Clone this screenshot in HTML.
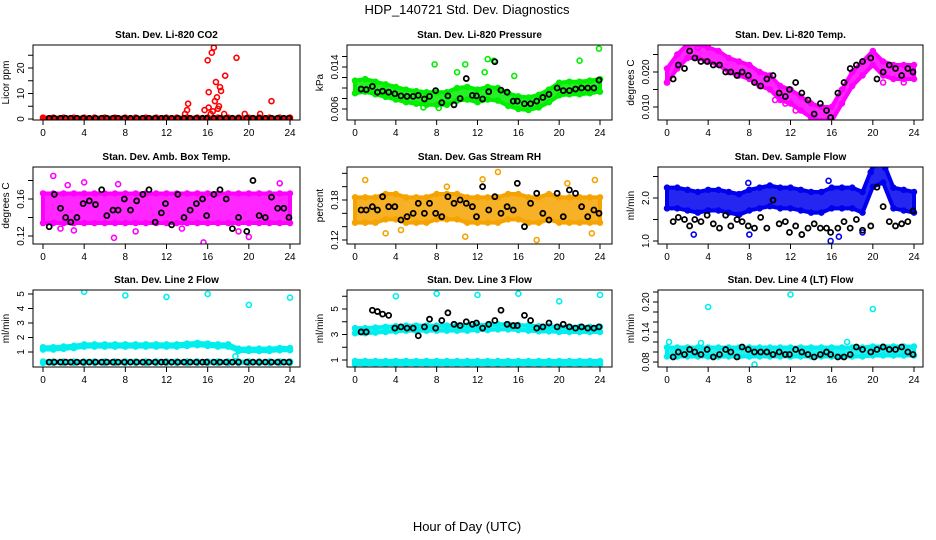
<!DOCTYPE html>
<html><head><meta charset="utf-8"><style>
body{margin:0;background:#fff;}
svg{display:block;font-family:"Liberation Sans",sans-serif;}
</style></head><body>
<svg id="c" width="936" height="540">
<text x="467" y="14" text-anchor="middle" font-size="13">HDP_140721  Std. Dev. Diagnostics</text>
<text x="467" y="531" text-anchor="middle" font-size="13">Hour of Day (UTC)</text>
</svg>
<script>
const hours = [0,1,2,3,4,5,6,7,8,9,10,11,12,13,14,15,16,17,18,19,20,21,22,23,24];
const blackX = [0.6,1.1,1.7,2.2,2.7,3.3,3.9,4.5,5.1,5.7,6.2,6.8,7.3,7.9,8.5,9.1,9.7,10.3,10.9,11.5,11.9,12.5,13.1,13.7,14.3,14.9,15.5,15.9,16.6,17.2,17.8,18.4,19,19.8,20.4,21,21.6,22.2,22.8,23.4,23.9];
const xTicks = [0,4,8,12,16,20,24];

const co2Center = [0.3,0.3,0.3,0.3,0.3,0.3,0.3,0.3,0.3,0.3,0.3,0.3,0.3,0.3,0.3,0.3,0.3,0.3,0.3,0.3,0.3,0.3,0.3,0.3,0.3];
const co2Black = [0.3,0.3,0.3,0.3,0.3,0.3,0.3,0.3,0.3,0.3,0.3,0.3,0.3,0.3,0.3,0.3,0.3,0.3,0.3,0.3,0.3,0.3,0.3,0.3,0.3,0.3,0.3,0.3,0.3,0.3,0.3,0.3,0.3,0.3,0.3,0.3,0.3,0.3,0.3,0.3,0.3];
const co2Out = [[13.8,2],[14,3.5],[14.1,6],[15.7,3.5],[16,23],[16.1,10.5],[16.1,4.5],[16.4,26],[16.6,28],[16.7,7],[16.8,14.5],[16.9,8.5],[17.1,5],[17.2,12.5],[17.3,11],[17.7,17],[17.6,2],[18.8,24],[19.6,2],[21.1,2],[22.2,7],[16.5,3],[17,4],[16.3,2]];

const presCenter = [0.0102,0.0105,0.0100,0.0095,0.0090,0.0085,0.0082,0.0080,0.0080,0.0080,0.0088,0.0090,0.0085,0.0090,0.0088,0.0078,0.0072,0.0070,0.0075,0.0085,0.0098,0.0100,0.0100,0.0102,0.0105];
const presBlack = [0.0098,0.0097,0.0103,0.0092,0.0094,0.0092,0.0089,0.0085,0.0084,0.0084,0.0086,0.0079,0.0084,0.0095,0.0072,0.0085,0.0068,0.0080,0.0118,0.0086,0.0085,0.0079,0.0093,0.0150,0.0096,0.0092,0.0075,0.0075,0.0070,0.0070,0.0075,0.0082,0.0088,0.0100,0.0095,0.0095,0.0098,0.0100,0.0100,0.0100,0.0115];
const presOut = [[7.8,0.0145],[10.8,0.0145],[13,0.0155],[13.6,0.0152],[15.6,0.0123],[22,0.0152],[23.9,0.0175],[12.7,0.013],[10,0.013],[6.7,0.0063],[8.2,0.0062]];

const tempCenter = [0.019,0.023,0.026,0.026,0.025,0.024,0.022,0.021,0.020,0.018,0.017,0.014,0.013,0.011,0.009,0.008,0.008,0.013,0.018,0.021,0.024,0.021,0.020,0.020,0.020];
const tempBlack = [0.018,0.022,0.021,0.026,0.024,0.023,0.023,0.022,0.022,0.020,0.020,0.019,0.020,0.019,0.017,0.016,0.018,0.019,0.014,0.013,0.015,0.017,0.014,0.012,0.008,0.011,0.009,0.007,0.014,0.017,0.021,0.022,0.023,0.024,0.018,0.020,0.022,0.021,0.019,0.021,0.020];
const tempOut = [[0,0.017],[3,0.027],[10.5,0.012],[11.5,0.011],[12.5,0.009],[14,0.006],[15.5,0.006],[21,0.017],[23,0.017]];

const ambCenter = [0.15,0.15,0.15,0.15,0.15,0.15,0.15,0.15,0.15,0.15,0.15,0.15,0.15,0.15,0.15,0.15,0.15,0.15,0.15,0.15,0.15,0.15,0.15,0.15,0.15];
const ambBlack = [0.13,0.165,0.15,0.14,0.135,0.14,0.155,0.158,0.154,0.17,0.142,0.148,0.148,0.16,0.148,0.158,0.165,0.17,0.135,0.145,0.155,0.132,0.165,0.14,0.148,0.155,0.16,0.142,0.165,0.17,0.16,0.128,0.14,0.125,0.18,0.142,0.14,0.162,0.15,0.15,0.14];
const ambOut = [[1,0.185],[2.4,0.175],[4,0.178],[7.3,0.176],[6.9,0.118],[9,0.125],[15.6,0.113],[20,0.119],[23,0.177],[3,0.126],[1.7,0.128],[19,0.125],[13.5,0.128]];

const rhCenter = [0.165,0.165,0.165,0.17,0.17,0.165,0.165,0.165,0.17,0.17,0.17,0.165,0.165,0.165,0.165,0.17,0.17,0.165,0.165,0.17,0.165,0.165,0.165,0.165,0.165];
const rhBlack = [0.165,0.165,0.17,0.165,0.185,0.17,0.17,0.15,0.155,0.16,0.175,0.16,0.175,0.16,0.155,0.185,0.175,0.18,0.175,0.17,0.155,0.20,0.165,0.185,0.16,0.17,0.165,0.205,0.14,0.175,0.19,0.16,0.15,0.19,0.155,0.195,0.19,0.17,0.155,0.165,0.16];
const rhOut = [[1,0.210],[3,0.13],[4.5,0.135],[10.8,0.125],[12.5,0.211],[14,0.222],[17.8,0.12],[20.8,0.205],[23.2,0.13],[23.5,0.21],[9,0.2]];

const flowCenter = [2.0,2.0,1.95,1.9,1.95,1.95,1.9,1.85,1.95,2.0,2.05,2.0,2.0,1.95,1.9,1.9,2.0,2.0,2.0,1.9,2.5,2.6,2.0,1.95,1.9];
const flowBlack = [1.45,1.55,1.5,1.35,1.5,1.45,1.6,1.4,1.3,1.6,1.35,1.5,1.45,1.35,1.3,1.55,1.3,1.95,1.4,1.45,1.2,1.35,1.15,1.3,1.4,1.3,1.3,1.2,1.3,1.45,1.3,1.5,1.25,1.35,2.25,1.8,1.45,1.35,1.4,1.45,1.7];
const flowOut = [[2.6,1.15],[7.9,2.35],[8,1.15],[15.9,1.0],[16.7,1.1],[19,1.2],[19.8,2.6],[21.2,2.7],[15.7,2.4]];

const l2Center = [1.25,1.25,1.3,1.35,1.45,1.45,1.45,1.45,1.45,1.45,1.45,1.45,1.45,1.45,1.5,1.55,1.5,1.45,1.45,1.15,1.15,1.15,1.15,1.2,1.2];
const l2Low = [0.3,0.3,0.3,0.3,0.3,0.3,0.3,0.3,0.3,0.3,0.3,0.3,0.3,0.3,0.3,0.3,0.3,0.3,0.3,0.3,0.3,0.3,0.3,0.3,0.3];
const l2Black = [0.3,0.3,0.3,0.3,0.3,0.3,0.3,0.3,0.3,0.3,0.3,0.3,0.3,0.3,0.3,0.3,0.3,0.3,0.3,0.3,0.3,0.3,0.3,0.3,0.3,0.3,0.3,0.3,0.3,0.3,0.3,0.3,0.3,0.3,0.3,0.3,0.3,0.3,0.3,0.3,0.3];
const l2Out = [[4,5.15],[8,4.9],[12,4.8],[16,5.0],[20,4.25],[24,4.75],[18.7,0.7]];

const l3Center = [3.3,3.3,3.35,3.4,3.45,3.5,3.5,3.5,3.5,3.5,3.5,3.5,3.55,3.55,3.6,3.6,3.55,3.5,3.45,3.45,3.4,3.4,3.4,3.4,3.4];
const l3Low = [0.8,0.8,0.8,0.8,0.8,0.8,0.8,0.8,0.8,0.8,0.8,0.8,0.8,0.8,0.8,0.8,0.8,0.8,0.8,0.8,0.8,0.8,0.8,0.8,0.8];
const l3Black = [3.2,3.2,4.9,4.8,4.6,4.5,3.5,3.6,3.5,3.5,2.9,3.6,4.2,3.5,4.1,4.7,3.8,3.7,4.0,3.8,3.9,3.5,3.8,4.1,4.9,3.8,3.7,3.7,4.5,4.1,3.5,3.6,3.9,3.6,3.8,3.6,3.5,3.6,3.5,3.5,3.6];
const l3Out = [[4,6],[8,6.2],[12,6.1],[16,6.2],[20,5.6],[24,6.1]];

const l4Center = [0.10,0.10,0.10,0.10,0.10,0.10,0.10,0.10,0.10,0.10,0.10,0.10,0.10,0.10,0.10,0.10,0.10,0.10,0.10,0.10,0.102,0.102,0.102,0.102,0.102];
const l4Black = [0.09,0.10,0.095,0.105,0.10,0.095,0.105,0.09,0.095,0.105,0.10,0.09,0.11,0.105,0.10,0.10,0.10,0.095,0.10,0.095,0.095,0.105,0.10,0.095,0.09,0.095,0.10,0.095,0.09,0.09,0.095,0.11,0.105,0.10,0.105,0.11,0.105,0.105,0.11,0.10,0.095];
const l4Out = [[4,0.19],[12,0.215],[20,0.186],[0.2,0.12],[8.5,0.075],[17.5,0.12],[3.3,0.118]];

const NS = "http://www.w3.org/2000/svg";
const svg = document.getElementById('c');
function mk(tag, attrs, parent){const e=document.createElementNS(NS,tag);for(const k in attrs)e.setAttribute(k,attrs[k]);(parent||svg).appendChild(e);return e;}

const panels = [
 {name:'co2',title:'Stan. Dev. Li-820 CO2',ylab:'Licor ppm',box:[33,45,300,120],xa:[43,290],ya:[0,119,20,68],ticks:[0,5,10,15,20,25],labels:[0,10,20],lf:v=>String(v),col:'#ff0000',center:co2Center,spread:0.25,black:co2Black,out:co2Out},
 {name:'pressure',title:'Stan. Dev. Li-820 Pressure',ylab:'kPa',box:[347,45,612,120],xa:[355,600],ya:[0.006,109,0.014,67],ticks:[0.006,0.008,0.010,0.012,0.014,0.016],labels:[0.006,0.014],lf:v=>v.toFixed(3),col:'#00ee00',center:presCenter,spread:0.0012,black:presBlack,out:presOut},
 {name:'temp',title:'Stan. Dev. Li-820 Temp.',ylab:'degrees C',box:[658,45,923,120],xa:[667,914],ya:[0.010,107,0.020,72],ticks:[0.010,0.015,0.020,0.025],labels:[0.010,0.020],lf:v=>v.toFixed(3),col:'#ff00ff',center:tempCenter,spread:0.002,black:tempBlack,out:tempOut},
 {name:'amb-box',title:'Stan. Dev. Amb. Box Temp.',ylab:'degrees C',box:[33,167,300,244],xa:[43,290],ya:[0.12,236,0.16,199],ticks:[0.12,0.14,0.16,0.18],labels:[0.12,0.16],lf:v=>v.toFixed(2),col:'#ff00ff',center:ambCenter,spread:0.016,black:ambBlack,out:ambOut},
 {name:'rh',title:'Stan. Dev. Gas Stream RH',ylab:'percent',box:[347,167,612,244],xa:[355,600],ya:[0.12,240,0.18,200],ticks:[0.12,0.14,0.16,0.18,0.20,0.22],labels:[0.12,0.18],lf:v=>v.toFixed(2),col:'#f5a300',center:rhCenter,spread:0.019,black:rhBlack,out:rhOut},
 {name:'sample-flow',title:'Stan. Dev. Sample Flow',ylab:'ml/min',box:[658,167,923,244],xa:[667,914],ya:[1.0,241,2.0,198],ticks:[1.0,1.5,2.0,2.5],labels:[1.0,2.0],lf:v=>v.toFixed(1),col:'#0000ee',center:flowCenter,spread:0.24,black:flowBlack,out:flowOut},
 {name:'line2',title:'Stan. Dev. Line 2 Flow',ylab:'ml/min',box:[33,290,300,367],xa:[43,290],ya:[1,352,5,294],ticks:[1,2,3,4,5],labels:[1,2,3,4,5],lf:v=>String(v),col:'#00eeee',center:l2Center,spread:0.08,low:l2Low,black:l2Black,out:l2Out},
 {name:'line3',title:'Stan. Dev. Line 3 Flow',ylab:'ml/min',box:[347,290,612,367],xa:[355,600],ya:[1,360,5,309],ticks:[1,2,3,4,5,6],labels:[1,3,5],lf:v=>String(v),col:'#00eeee',center:l3Center,spread:0.2,low:l3Low,black:l3Black,out:l3Out},
 {name:'line4',title:'Stan. Dev. Line 4 (LT) Flow',ylab:'ml/min',box:[658,290,923,367],xa:[667,914],ya:[0.08,362,0.20,302],ticks:[0.08,0.10,0.12,0.14,0.16,0.18,0.20,0.22],labels:[0.08,0.14,0.20],lf:v=>v.toFixed(2),col:'#00eeee',center:l4Center,spread:0.009,black:l4Black,out:l4Out}
];

panels.forEach(p=>{
  const [L,T,R,B]=p.box;
  const xs=h=>p.xa[0]+(p.xa[1]-p.xa[0])*h/24;
  const ys=v=>p.ya[1]+(p.ya[3]-p.ya[1])*(v-p.ya[0])/(p.ya[2]-p.ya[0]);
  const g=mk('g',{});
  
  
  const clipId='clip-'+p.name;
  const cp=mk('clipPath',{id:clipId},g);mk('rect',{x:L,y:T,width:R-L,height:B-T},cp);
  const d=mk('g',{'clip-path':'url(#'+clipId+')'},g);
  function band(center,spread,nm){
    let top='',bot='';
    hours.forEach((h,i)=>{top+=(i?'L':'M')+xs(h)+','+ys(center[i]+spread);});
    for(let i=hours.length-1;i>=0;i--){bot+='L'+xs(hours[i])+','+ys(center[i]-spread);}
    const pth=mk('path',{d:top+bot+'Z',fill:p.col,'fill-opacity':0.85,stroke:p.col,'stroke-width':4,'stroke-linejoin':'round'},d);
    
    
    hours.forEach((h,i)=>{[center[i]+spread,center[i]-spread].forEach(v=>{
      const c=mk('circle',{cx:xs(h),cy:ys(v),r:2.5,fill:'none',stroke:p.col,'stroke-width':1.5},d);
      
      
    });});
  }
  band(p.center,p.spread,p.name+'-band');
  if(p.low) band(p.low,p.spread*0.6,p.name+'-low-band');
  p.out.forEach(o=>{
    const c=mk('circle',{cx:xs(o[0]),cy:ys(o[1]),r:2.5,fill:'none',stroke:p.col,'stroke-width':1.6},d);
    
    
  });
  p.black.forEach((v,i)=>{
    const c=mk('circle',{cx:xs(blackX[i]),cy:ys(v),r:2.5,fill:'none',stroke:'#000','stroke-width':1.8},d);
    
    
  });
  const box=mk('rect',{x:L,y:T,width:R-L,height:B-T,fill:'none',stroke:'#000','stroke-width':1},g);
  
  
  const t=mk('text',{x:(L+R)/2,y:T-7,'text-anchor':'middle','font-size':10,'font-weight':'bold'},g);
  t.textContent=p.title;
  
  
  xTicks.forEach(h=>{
    mk('line',{x1:xs(h),x2:xs(h),y1:B,y2:B+5,stroke:'#000'},g);
    const tl=mk('text',{x:xs(h),y:B+16,'text-anchor':'middle','font-size':10},g);
    tl.textContent=h;
    
    
  });
  p.ticks.forEach(v=>{
    const y=ys(v); if(y<T-1||y>B+1) return;
    mk('line',{x1:L-5,x2:L,y1:y,y2:y,stroke:'#000'},g);
  });
  p.labels.forEach(v=>{
    const y=ys(v);
    const tl=mk('text',{x:L-9,y:y,'text-anchor':'middle','font-size':10,transform:'rotate(-90 '+(L-9)+' '+y+')'},g);
    tl.textContent=p.lf(v);
    
    
  });
  const yl=mk('text',{x:L-24,y:(T+B)/2,'text-anchor':'middle','font-size':10,transform:'rotate(-90 '+(L-24)+' '+((T+B)/2)+')'},g);
  yl.textContent=p.ylab;
  
  
});
</script>
</body></html>
